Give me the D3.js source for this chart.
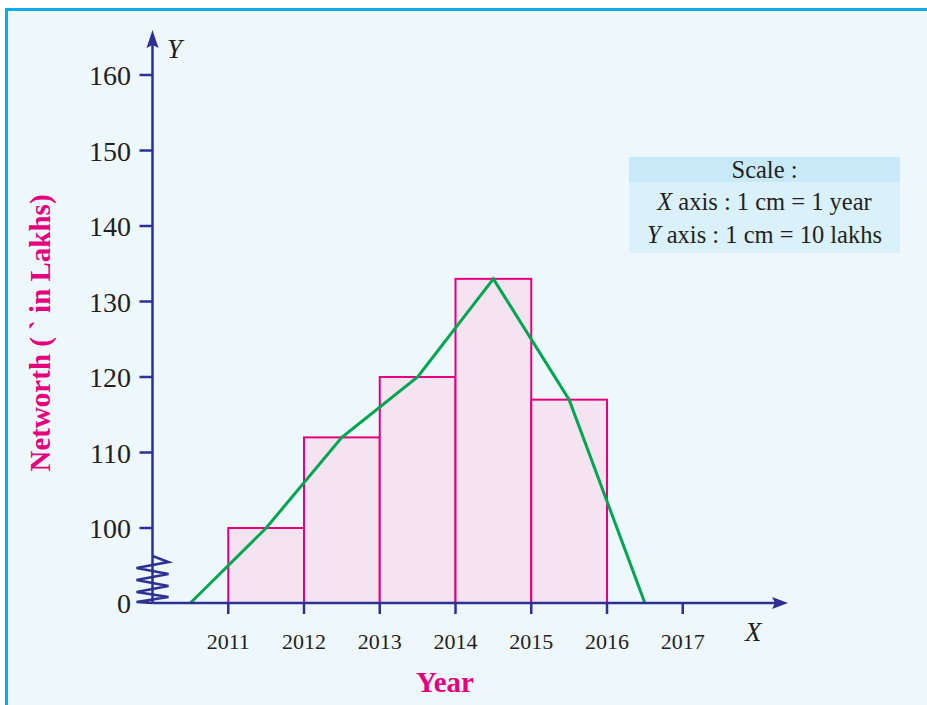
<!DOCTYPE html>
<html><head><meta charset="utf-8">
<script src="https://cdn.jsdelivr.net/npm/d3@7"></script>
<style>
html,body{margin:0;padding:0;background:#ffffff;}
svg{display:block;}
text{font-family:"Liberation Serif","DejaVu Serif",serif;}
</style></head>
<body>
<svg id="chart" width="927" height="705"></svg>
<script>
// ---- data ----
const years = [2011, 2012, 2013, 2014, 2015];
const networth = [100, 112, 120, 133, 117];
const polygonX = [2010.5, 2011.5, 2012.5, 2013.5, 2014.5, 2015.5, 2016.5];
const polygonY = [0, 100, 112, 120, 133, 117, 0];
const xTickLabels = [2011, 2012, 2013, 2014, 2015, 2016, 2017];
const yTickLabels = [0, 100, 110, 120, 130, 140, 150, 160];
const scaleLines = ["Scale :", "X axis : 1 cm = 1 year", "Y axis : 1 cm = 10 lakhs"];

const svg = d3.select("#chart");
const navy = "#2e3192", magenta = "#e6007e", green = "#00a651";

// background frame
svg.append("rect").attr("x", 0).attr("y", 0).attr("width", 927).attr("height", 705).attr("fill", "#ffffff");
svg.append("rect").attr("x", 6.5).attr("y", 9.5).attr("width", 940).attr("height", 720)
  .attr("fill", "#eef7fc").attr("stroke", "#00aeef").attr("stroke-width", 3);

// scales
const x = d3.scaleLinear().domain([2010, 2018]).range([152.5, 758.5]);
const y = d3.scaleLinear().domain([0, 100, 160]).range([603, 528, 75]);

// bars
svg.append("g").selectAll("rect").data(years).join("rect")
  .attr("x", d => x(d))
  .attr("width", d => x(d + 1) - x(d))
  .attr("y", (d, i) => y(networth[i]))
  .attr("height", (d, i) => y(0) - y(networth[i]))
  .attr("fill", "#f6e3f0")
  .attr("stroke", magenta).attr("stroke-width", 2);

// frequency polygon
const line = d3.line().x(d => x(d[0])).y(d => y(d[1]));
svg.append("path").datum(polygonX.map((v, i) => [v, polygonY[i]]))
  .attr("d", line).attr("fill", "none").attr("stroke", green).attr("stroke-width", 3);

// axes
const x0 = x(2010), y0 = y(0);
svg.append("line").attr("x1", x0).attr("y1", y0).attr("x2", 778).attr("y2", y0)
  .attr("stroke", navy).attr("stroke-width", 2.5);
svg.append("path").attr("d", `M788,${y0} L772,${y0 - 6} L775,${y0} L772,${y0 + 6} Z`).attr("fill", navy);
svg.append("line").attr("x1", x0).attr("y1", y0).attr("x2", x0).attr("y2", 42)
  .attr("stroke", navy).attr("stroke-width", 2.5);
svg.append("path").attr("d", `M${x0},30 L${x0 - 6},48 L${x0},45 L${x0 + 6},48 Z`).attr("fill", navy);

// x ticks
const xg = svg.append("g");
xg.selectAll("line").data(xTickLabels).join("line")
  .attr("x1", d => x(d)).attr("x2", d => x(d))
  .attr("y1", y0 - 1).attr("y2", y0 + 11)
  .attr("stroke", navy).attr("stroke-width", 2.5);
xg.selectAll("text").data(xTickLabels).join("text")
  .attr("x", d => x(d)).attr("y", 649).attr("text-anchor", "middle")
  .attr("font-size", 22).attr("fill", "#231f20").text(d => d);

// y ticks
const yg = svg.append("g");
yg.selectAll("line").data(yTickLabels.filter(d => d > 0)).join("line")
  .attr("x1", x0 - 13).attr("x2", x0)
  .attr("y1", d => y(d)).attr("y2", d => y(d))
  .attr("stroke", navy).attr("stroke-width", 2.5);
yg.selectAll("text").data(yTickLabels).join("text")
  .attr("x", 131).attr("y", d => y(d) + 10)
  .attr("text-anchor", "end").attr("font-size", 28).attr("fill", "#231f20").text(d => d);

// axis break zigzag
const zz = [[x0, 556], [x0 + 16, 562], [x0 - 16, 568], [x0 + 16, 574], [x0 - 16, 580], [x0 + 16, 586], [x0 - 16, 592], [x0 + 16, 597], [x0 - 16, 602], [x0, y0]];
svg.append("path").attr("d", d3.line()(zz)).attr("fill", "none").attr("stroke", navy).attr("stroke-width", 2.5);

// axis letters
svg.append("text").attr("x", 167).attr("y", 58).attr("font-size", 27).attr("font-style", "italic").attr("fill", "#231f20").text("Y");
svg.append("text").attr("x", 745).attr("y", 641).attr("font-size", 27).attr("font-style", "italic").attr("fill", "#231f20").text("X");

// axis titles
svg.append("text").attr("x", 445).attr("y", 692).attr("text-anchor", "middle")
  .attr("font-size", 29).attr("font-weight", "bold").attr("fill", magenta).text("Year");
svg.append("text").attr("transform", "translate(50,333) rotate(-90)").attr("text-anchor", "middle")
  .attr("font-size", 29).attr("font-weight", "bold").attr("fill", magenta).text("Networth ( ` in Lakhs)");

// scale box
const bx = 629, bw = 271;
svg.append("rect").attr("x", bx).attr("y", 157).attr("width", bw).attr("height", 25).attr("fill", "#c8e9f8");
svg.append("rect").attr("x", bx).attr("y", 182).attr("width", bw).attr("height", 71).attr("fill", "#daf1fb");
const sb = svg.append("g").attr("font-size", 24.5).attr("fill", "#231f20").attr("text-anchor", "middle");
sb.append("text").attr("x", bx + bw / 2).attr("y", 178).text(scaleLines[0]);
[scaleLines[1], scaleLines[2]].forEach((s, i) => {
  const t = sb.append("text").attr("x", bx + bw / 2).attr("y", 210 + i * 33);
  t.append("tspan").attr("font-style", "italic").text(s[0]);
  t.append("tspan").text(s.slice(1));
});
</script>
</body></html>
